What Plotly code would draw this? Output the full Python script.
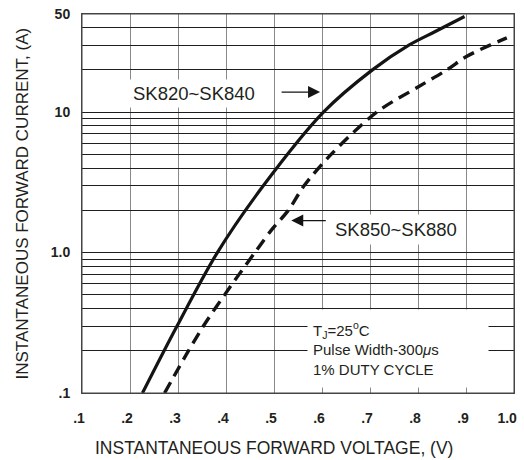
import math
import plotly.graph_objects as go

# ---- data ----
solid_v = [0.226, 0.298, 0.382, 0.478, 0.603, 0.705, 0.781, 0.836, 0.897]
solid_i = [0.1, 0.3, 1.0, 3.0, 10.0, 20.0, 30.0, 37.5, 48.0]

dashed_v = [0.272, 0.322, 0.353, 0.397, 0.460, 0.497, 0.530, 0.563, 0.619,
            0.714, 0.800, 0.860, 0.900, 0.950, 0.985]
dashed_i = [0.1, 0.2, 0.3, 0.5, 1.0, 1.48, 2.0, 3.0, 5.0,
            10.0, 15.1, 20.0, 24.8, 30.0, 33.8]

voltage_ticks = [0.1, 0.2, 0.3, 0.4, 0.5, 0.6, 0.7, 0.8, 0.9, 1.0]
voltage_labels = [".1", ".2", ".3", ".4", ".5", ".6", ".7", ".8", ".9", "1.0\u2007"]
voltage_dark_grid = [0.2, 0.4, 0.6, 0.8]

current_grid = [0.1, 0.2, 0.3, 0.4, 0.5, 0.6, 0.7, 0.8, 0.9,
                1, 2, 3, 4, 5, 6, 7, 8, 9,
                10, 20, 30, 40, 50]
current_label_map = {0.1: ".1", 1: "1.0", 10: "10", 50: "50"}
current_labels = [current_label_map.get(v, "") for v in current_grid]

label_upper = "SK820~SK840"
label_lower = "SK850~SK880"
arrow_upper = (0.596, 13.9)
arrow_lower = (0.536, 1.69)
conditions = "T<sub>J</sub>=25<sup>o</sup>C<br>Pulse Width-300<i>μ</i>s<br>1% DUTY CYCLE"

FONT = "Liberation Sans, Arial, sans-serif"
TXT = "#231f20"
GRID = "#1e1e1e"
GRID_LIGHT = "#8a8a8a"

fig = go.Figure()
fig.add_trace(go.Scatter(x=solid_v, y=solid_i, mode="lines",
                         line=dict(color="#141414", width=3.2, shape="spline", smoothing=0.9),
                         showlegend=False, hoverinfo="skip"))
fig.add_trace(go.Scatter(x=dashed_v, y=dashed_i, mode="lines",
                         line=dict(color="#141414", width=3.4, shape="spline", smoothing=0.9,
                                   dash="12px,7px"),
                         showlegend=False, hoverinfo="skip"))

fig.update_layout(
    width=524, height=460, autosize=False,
    margin=dict(l=82, r=10, t=14, b=67, autoexpand=False),
    paper_bgcolor="white", plot_bgcolor="white",
    font=dict(family=FONT, color=TXT),
    xaxis=dict(range=[0.1, 1.0], tickvals=voltage_ticks, ticktext=voltage_labels,
               automargin=False, ticklabelshift=-3, ticklabeloverflow="allow",
               showgrid=True, gridcolor=GRID_LIGHT, gridwidth=1,
               showline=True, mirror=True, linecolor="#444", linewidth=1,
               ticks="outside", ticklen=12, tickcolor="rgba(0,0,0,0)",
               tickfont=dict(size=14, weight="bold", color=TXT), zeroline=False),
    xaxis2=dict(range=[0.1, 1.0], overlaying="x", anchor="y", tickvals=voltage_dark_grid,
                automargin=False,
                showticklabels=False, showgrid=True, gridcolor=GRID, gridwidth=1,
                showline=False, ticks="", zeroline=False),
    yaxis=dict(type="log", range=[-1, math.log10(50)], tickvals=current_grid,
               ticktext=current_labels, automargin=False, ticklabeloverflow="allow",
               showgrid=True, gridcolor=GRID, gridwidth=1,
               showline=True, mirror=True, linecolor="#444", linewidth=1,
               ticks="outside", ticklen=8, tickcolor="rgba(0,0,0,0)",
               tickfont=dict(size=14, weight="bold", color=TXT), zeroline=False),
    shapes=[dict(type="rect", xref="paper", yref="paper", x0=0, x1=1, y0=0, y1=1,
                 line=dict(color="#444", width=1), fillcolor="rgba(0,0,0,0)",
                 layer="above")],
)

annotations = [
    dict(text="INSTANTANEOUS FORWARD VOLTAGE, (V)", xref="paper", yref="paper",
         x=(274 - 82) / 432, y=(393 - 448) / 379, xanchor="center", yanchor="middle",
         showarrow=False, font=dict(size=17.5, family=FONT, color=TXT)),
    dict(text="INSTANTANEOUS FORWARD CURRENT, (A)", xref="paper", yref="paper",
         x=(22 - 82) / 432, y=0.5, xanchor="center", yanchor="middle", textangle=-90,
         showarrow=False, font=dict(size=17, family=FONT, color=TXT)),
    dict(text=label_upper, xref="paper", yref="paper", x=(194 - 82) / 432,
         y=(393 - 94) / 379, xanchor="center", yanchor="middle", showarrow=False,
         bgcolor="white", borderpad=3, font=dict(size=18.5, family=FONT, color=TXT)),
    dict(text=label_lower, xref="paper", yref="paper", x=(396 - 82) / 432,
         y=(393 - 229) / 379, xanchor="center", yanchor="middle", showarrow=False,
         bgcolor="white", borderpad=4, font=dict(size=18.5, family=FONT, color=TXT)),
    dict(text="", x=arrow_upper[0], y=math.log10(arrow_upper[1]), xref="x", yref="y",
         ax=-40, ay=0, showarrow=True, arrowhead=2, arrowsize=2, arrowwidth=1.2,
         arrowcolor="#141414"),
    dict(text="", x=arrow_lower[0], y=math.log10(arrow_lower[1]), xref="x", yref="y",
         ax=36, ay=0, showarrow=True, arrowhead=2, arrowsize=2, arrowwidth=1.2,
         arrowcolor="#141414"),
    dict(text=conditions, xref="paper", yref="paper", x=(397.5 - 82) / 432,
         y=(393 - 348.5) / 379, xanchor="center", yanchor="middle", showarrow=False,
         align="left", width=170, height=67, borderpad=5, bgcolor="white",
         font=dict(size=15, family=FONT, color=TXT)),
]
fig.update_layout(annotations=annotations)

fig.write_html("out.html",
               config={"displayModeBar": False},
               post_script="document.body.style.margin='0';document.body.style.padding='0';"
                           "document.body.style.overflow='hidden';")
